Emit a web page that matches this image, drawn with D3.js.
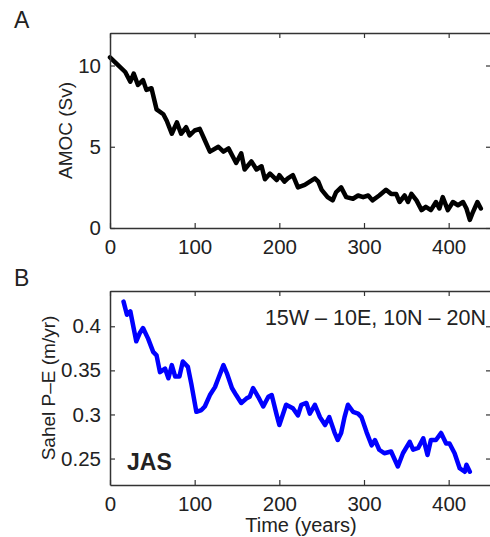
<!DOCTYPE html>
<html>
<head>
<meta charset="utf-8">
<script src="https://cdn.jsdelivr.net/npm/d3@7"></script>
<style>
  body { margin: 0; background: #fff; }
  text { font-family: "Liberation Sans", Arial, Helvetica, sans-serif; fill: #222; }
</style>
</head>
<body>
<script>
// panel A: AMOC strength
var amocYears = [0,8,18,24,28,33,39,43,49,55,63,67,73,79,84,90,94,100,106,112,118,128,134,140,145,149,155,159,167,173,179,183,189,197,200,206,210,216,222,230,236,242,246,250,257,263,267,273,279,287,293,299,305,310,318,326,332,338,342,348,352,356,362,368,373,379,385,389,393,399,405,411,417,421,425,428,434,438];
var amocValues = [10.5,10.1,9.6,9.0,9.5,8.8,9.1,8.5,8.6,7.3,7.0,6.6,5.8,6.5,5.8,6.2,5.7,6.0,6.1,5.4,4.7,5.0,4.7,4.9,4.4,4.0,4.6,3.6,4.1,3.6,3.8,3.0,3.35,2.95,3.25,2.85,3.05,3.25,2.5,2.65,2.85,3.05,2.85,2.35,1.9,1.7,2.2,2.5,1.9,1.8,2.0,1.9,2.0,1.7,2.0,2.35,2.1,2.1,1.6,2.0,1.6,2.1,1.7,1.1,1.3,1.1,1.6,1.2,1.9,1.1,1.6,1.4,1.6,1.2,0.5,0.9,1.6,1.2];

// panel B: Sahel P-E
var sahelYears = [16,20,24,31,35,39,45,51,55,59,65,69,73,77,82,86,92,96,102,108,112,118,124,128,134,138,144,149,155,161,165,169,175,181,187,191,197,200,208,216,222,226,232,236,242,248,254,259,265,269,273,277,281,287,293,297,303,309,313,318,324,332,340,346,354,358,364,370,375,379,385,391,397,401,407,413,419,421,425];
var sahelValues = [0.428,0.413,0.417,0.383,0.392,0.398,0.386,0.371,0.367,0.348,0.352,0.341,0.356,0.343,0.343,0.36,0.354,0.335,0.303,0.305,0.309,0.322,0.331,0.341,0.356,0.347,0.33,0.322,0.313,0.318,0.32,0.33,0.32,0.309,0.32,0.322,0.299,0.288,0.311,0.307,0.299,0.311,0.313,0.301,0.311,0.297,0.288,0.297,0.28,0.271,0.279,0.297,0.311,0.303,0.301,0.297,0.28,0.265,0.271,0.26,0.256,0.258,0.241,0.256,0.269,0.26,0.262,0.273,0.254,0.271,0.271,0.279,0.267,0.267,0.256,0.239,0.235,0.243,0.235];

var xTicks = [0,100,200,300,400];
var amocTicks = [0,5,10];
var sahelTicks = [0.25,0.3,0.35,0.4];

var svg = d3.select("body").append("svg")
    .attr("width", 490)
    .attr("height", 537);

var left = 110, right = 491;

function panel(opts) {
    var x = d3.scaleLinear().domain([0, 450]).range([left, right]);
    var y = d3.scaleLinear().domain(opts.domain).range([opts.bottom, opts.top]);
    var g = svg.append("g");

    // line
    var line = d3.line()
        .x(function (d) { return x(d[0]); })
        .y(function (d) { return y(d[1]); });
    var pts = opts.years.map(function (t, i) { return [t, opts.values[i]]; });
    g.append("path")
        .datum(pts)
        .attr("d", line)
        .attr("fill", "none")
        .attr("stroke", opts.color)
        .attr("stroke-width", 4.5)
        .attr("stroke-linejoin", "round")
        .attr("stroke-linecap", "round");

    // axes (ticks inward, mirrored on top/right like matlab)
    var bottomAxis = d3.axisBottom(x).tickValues(xTicks).tickSizeInner(-5).tickSizeOuter(0).tickPadding(11);
    var topAxis = d3.axisTop(x).tickValues(xTicks).tickSizeInner(-5).tickSizeOuter(0).tickFormat("");
    var leftAxis = d3.axisLeft(y).tickValues(opts.ticks).tickSizeInner(-5).tickSizeOuter(0).tickPadding(9).tickFormat(opts.fmt);
    var rightAxis = d3.axisRight(y).tickValues(opts.ticks).tickSizeInner(-5).tickSizeOuter(0).tickFormat("");

    var axes = [
        g.append("g").attr("transform", "translate(0," + opts.bottom + ")").call(bottomAxis),
        g.append("g").attr("transform", "translate(0," + opts.top + ")").call(topAxis),
        g.append("g").attr("transform", "translate(" + left + ",0)").call(leftAxis),
        g.append("g").attr("transform", "translate(" + right + ",0)").call(rightAxis)
    ];
    axes.forEach(function (a) {
        a.selectAll("path").attr("stroke", "#333").attr("stroke-width", 1.5);
        a.selectAll("line").attr("stroke", "#333").attr("stroke-width", 1.2);
        a.selectAll("text").style("font-size", "20.5px").attr("fill", "#222")
            .style("font-family", "'Liberation Sans', Arial, sans-serif");
    });

    // y label
    g.append("text")
        .attr("transform", "translate(" + opts.ylabX + "," + ((opts.top + opts.bottom) / 2) + ") rotate(-90)")
        .attr("text-anchor", "middle")
        .style("font-size", "19px")
        .text(opts.ylabel);

    // panel letter
    svg.append("text")
        .attr("x", 14)
        .attr("y", opts.top - 5)
        .style("font-size", "23px")
        .text(opts.letter);

    return { x: x, y: y, g: g };
}

var a = panel({
    years: amocYears, values: amocValues, color: "#000",
    domain: [0, 12], top: 33, bottom: 228, ticks: amocTicks,
    fmt: d3.format("d"), ylabel: "AMOC (Sv)", ylabX: 72, letter: "A"
});

var b = panel({
    years: sahelYears, values: sahelValues, color: "#0000ff",
    domain: [0.22, 0.44], top: 291, bottom: 485, ticks: sahelTicks,
    fmt: function (d) { return String(d); }, ylabel: "Sahel P\u2013E (m/yr)", ylabX: 55, letter: "B"
});

b.g.append("text")
    .attr("x", 486)
    .attr("y", 325)
    .attr("text-anchor", "end")
    .style("font-size", "21.5px")
    .text("15W \u2013 10E, 10N \u2013 20N");

b.g.append("text")
    .attr("x", 127)
    .attr("y", 470)
    .style("font-size", "23px")
    .style("font-weight", "bold")
    .text("JAS");

svg.append("text")
    .attr("x", 301)
    .attr("y", 532)
    .attr("text-anchor", "middle")
    .style("font-size", "20px")
    .text("Time (years)");
</script>
</body>
</html>
